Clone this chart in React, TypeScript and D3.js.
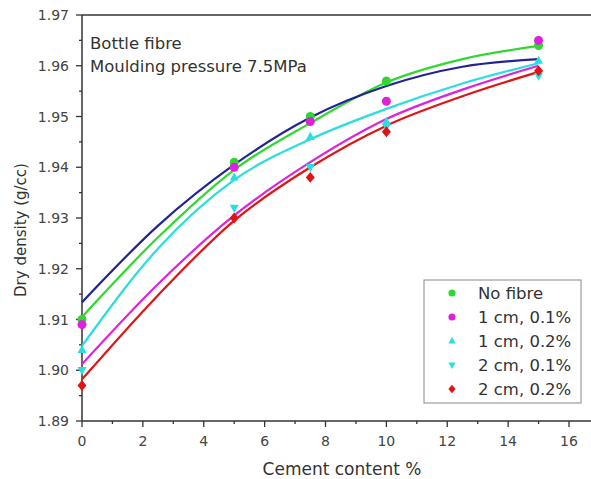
import React from "react";
import * as d3 from "d3";

const W = 591;
const H = 479;

// Measured cement contents (%)
const cement = [0, 5, 7.5, 10, 15];

// Series (points)
const seriesNames = ["No fibre", "1 cm, 0.1%", "1 cm, 0.2%", "2 cm, 0.1%", "2 cm, 0.2%"];
const noFibre = [1.910, 1.941, 1.950, 1.957, 1.964];
const cm1p1 = [1.909, 1.940, 1.949, 1.953, 1.965];
const cm1p2 = [1.904, 1.938, 1.946, 1.949, 1.961];
const cm2p1 = [1.900, 1.932, 1.940, 1.948, 1.958];
const cm2p2 = [1.897, 1.930, 1.938, 1.947, 1.959];

// Fitted curves
const fitX = [0, 2.5, 5, 7.5, 10, 12.5, 15];
const fitBlue = [1.9134, 1.9285, 1.9405, 1.9498, 1.956, 1.9598, 1.9613];
const fitGreen = [1.9105, 1.9262, 1.9395, 1.9487, 1.9567, 1.9613, 1.9639];
const fitCyan = [1.9048, 1.9240, 1.9375, 1.9455, 1.9515, 1.9565, 1.9605];
const fitMagenta = [1.9012, 1.917, 1.9305, 1.941, 1.9495, 1.9553, 1.96];
const fitRed = [1.8982, 1.9148, 1.9295, 1.94, 1.9482, 1.954, 1.9588];

const xTicks = [0, 2, 4, 6, 8, 10, 12, 14, 16];
const yTicks = [1.89, 1.9, 1.91, 1.92, 1.93, 1.94, 1.95, 1.96, 1.97];

const GREEN = "#2fd82f";
const MAGENTA = "#dd22dd";
const CYAN = "#2adede";
const RED = "#e01414";
const BLUE = "#22229a";

const series = [
  { name: seriesNames[0], values: noFibre, color: GREEN, shape: "circle" },
  { name: seriesNames[1], values: cm1p1, color: MAGENTA, shape: "circle" },
  { name: seriesNames[2], values: cm1p2, color: CYAN, shape: "up" },
  { name: seriesNames[3], values: cm2p1, color: CYAN, shape: "down" },
  { name: seriesNames[4], values: cm2p2, color: RED, shape: "diamond" },
];

const fits = [
  { values: fitMagenta, color: MAGENTA },
  { values: fitRed, color: RED },
  { values: fitCyan, color: CYAN },
  { values: fitGreen, color: GREEN },
  { values: fitBlue, color: BLUE },
];

const FONT = "'DejaVu Sans', sans-serif";
const TXT = "#333";

function Marker({ shape, x, y, color, s }: { shape: string; x: number; y: number; color: string; s: number }) {
  if (shape === "circle") return <circle cx={x} cy={y} r={s} fill={color} />;
  if (shape === "up")
    return <polygon points={`${x},${y - s * 1.1} ${x - s},${y + s * 0.7} ${x + s},${y + s * 0.7}`} fill={color} />;
  if (shape === "down")
    return <polygon points={`${x},${y + s * 1.1} ${x - s},${y - s * 0.7} ${x + s},${y - s * 0.7}`} fill={color} />;
  return <polygon points={`${x},${y - s * 1.2} ${x + s},${y} ${x},${y + s * 1.2} ${x - s},${y}`} fill={color} />;
}

export default function App() {
  const x = d3.scaleLinear().domain([0, 16]).range([82, 569]);
  const y = d3.scaleLinear().domain([1.89, 1.97]).range([421, 15]);
  const line = d3
    .line<number>()
    .x((_, i) => x(fitX[i]))
    .y((v) => y(v))
    .curve(d3.curveMonotoneX);

  const xMinor = d3.range(0, 17, 1);
  const yMinor = d3.range(0, 17).map((i) => 1.89 + i * 0.005);

  const legendRows = [293, 317, 341, 365, 389];

  return (
    <svg width={W} height={H} style={{ position: "absolute", left: 0, top: 0 }} fontFamily={FONT}>
      <rect width={W} height={H} fill="#fff" />
      {/* top frame line */}
      <line x1={x(0)} x2={W} y1={y(1.97)} y2={y(1.97)} stroke="#666" strokeWidth={2} />
      {/* axes */}
      <line x1={x(0)} x2={W} y1={y(1.89)} y2={y(1.89)} stroke="#333" strokeWidth={1.5} />
      <line x1={x(0)} x2={x(0)} y1={y(1.97)} y2={y(1.89)} stroke="#333" strokeWidth={1.5} />
      {xMinor.map((v) => (
        <line key={"xm" + v} x1={x(v)} x2={x(v)} y1={y(1.89)} y2={y(1.89) + (v % 2 === 0 ? 6 : 3)} stroke="#333" strokeWidth={1.3} />
      ))}
      {yMinor.map((v, i) => (
        <line key={"ym" + i} x1={x(0) - (i % 2 === 0 ? 6 : 3)} x2={x(0)} y1={y(v)} y2={y(v)} stroke="#333" strokeWidth={1.3} />
      ))}
      {xTicks.map((v) => (
        <text key={"xt" + v} x={x(v)} y={446} textAnchor="middle" fontSize={14} fill="#444">
          {v}
        </text>
      ))}
      {yTicks.map((v) => (
        <text key={"yt" + v} x={69} y={y(v) + 5} textAnchor="end" fontSize={14} fill="#444">
          {v.toFixed(2)}
        </text>
      ))}
      <text x={342} y={475} textAnchor="middle" fontSize={17} fill={TXT}>
        Cement content %
      </text>
      <text transform={`translate(26,230) rotate(-90)`} textAnchor="middle" fontSize={15} fill={TXT}>
        Dry density (g/cc)
      </text>
      <text x={90} y={49} fontSize={16.5} fill={TXT}>
        Bottle fibre
      </text>
      <text x={90} y={72} fontSize={16.5} fill={TXT}>
        Moulding pressure 7.5MPa
      </text>

      {/* fitted curves */}
      {fits.map((f, i) => (
        <path key={"f" + i} d={line(f.values) || ""} fill="none" stroke={f.color} strokeWidth={2.2} />
      ))}

      {/* points */}
      {series.map((s, si) =>
        s.values.map((v, i) => (
          <Marker key={`p${si}-${i}`} shape={s.shape} x={x(cement[i])} y={y(v)} color={s.color} s={4.5} />
        ))
      )}

      {/* legend */}
      <rect x={424} y={280} width={157} height={123} fill="#fff" stroke="#888" strokeWidth={1} />
      {series.map((s, i) => (
        <g key={"lg" + i}>
          <Marker shape={s.shape} x={452} y={legendRows[i]} color={s.color} s={3.6} />
          <text x={478} y={legendRows[i] + 6} fontSize={16.5} fill={TXT}>
            {s.name}
          </text>
        </g>
      ))}
    </svg>
  );
}
